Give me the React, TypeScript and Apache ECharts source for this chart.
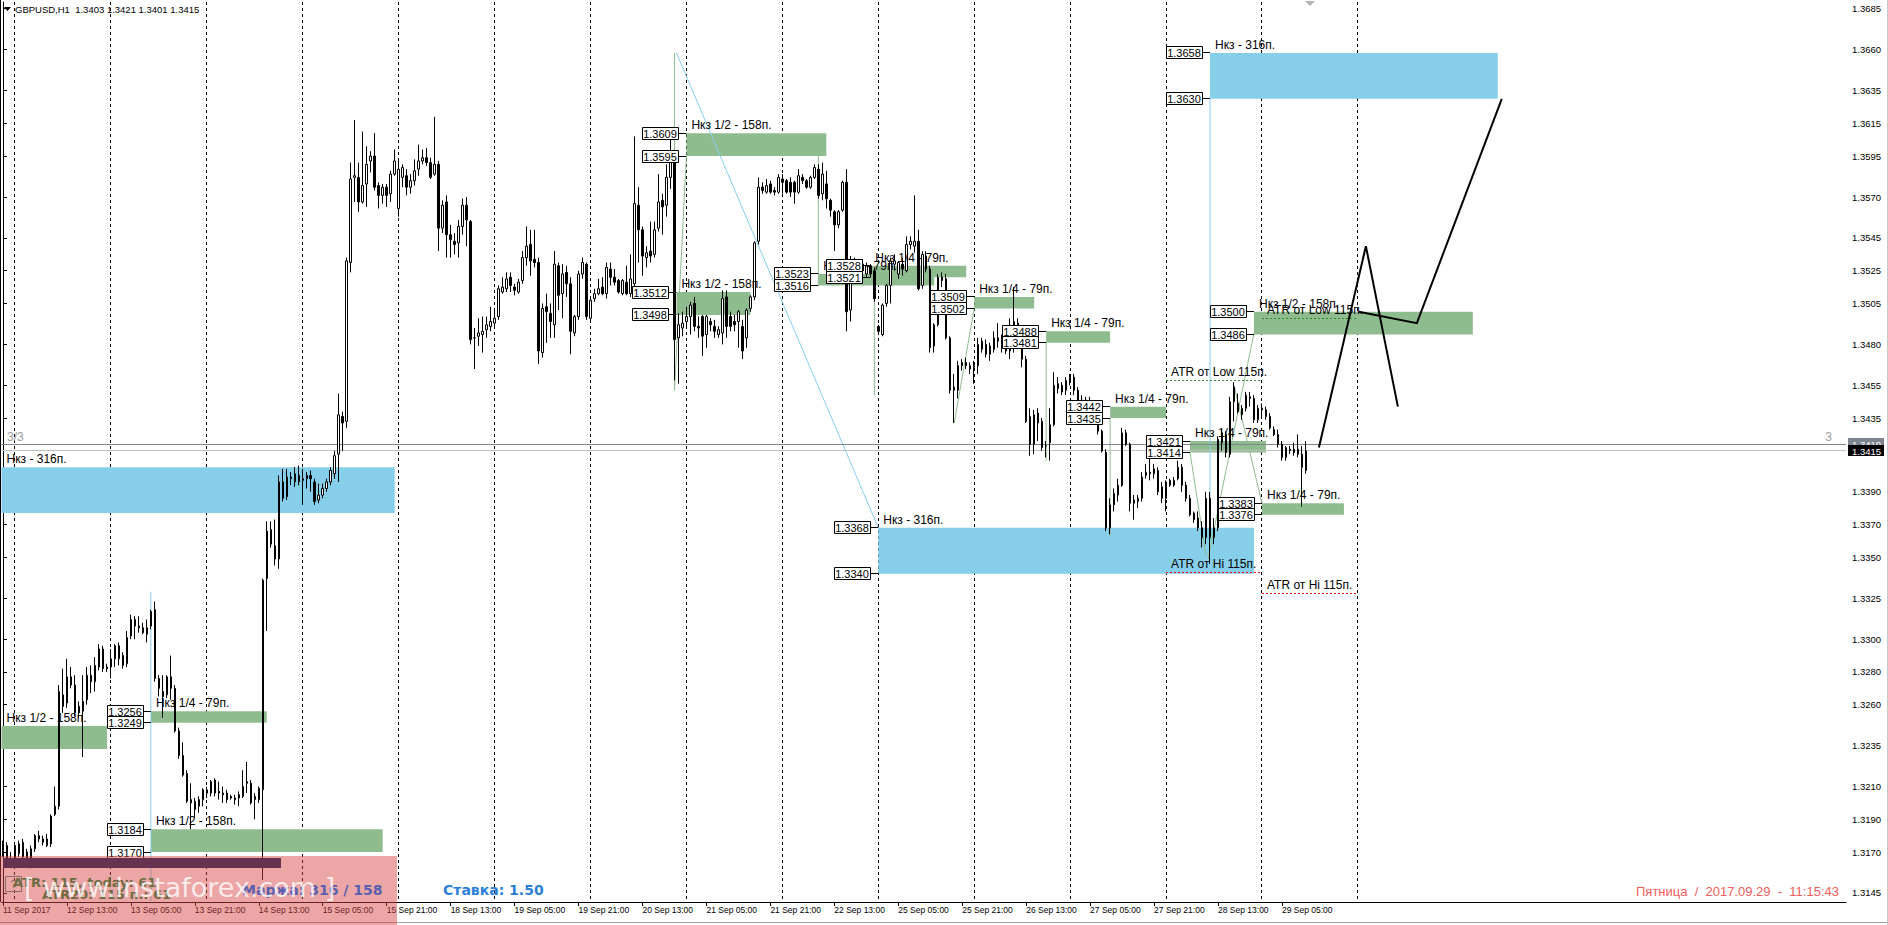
import { useEffect, useRef } from 'react';
import * as echarts from 'echarts';

// ---------- DATA ----------
// Hourly candles grouped by trading day, each row [open, high, low, close]
const SEP_11 = [
  [1.3171, 1.3177, 1.3167, 1.3175], [1.3174, 1.3176, 1.3163, 1.3165], [1.3165, 1.3170, 1.3161, 1.3166],
];
const SEP_12 = [
  [1.3163, 1.3175, 1.3161, 1.3174], [1.3169, 1.3177, 1.3167, 1.3175], [1.3167, 1.3178, 1.3163, 1.3176],
  [1.3170, 1.3172, 1.3161, 1.3163], [1.3163, 1.3174, 1.3160, 1.3172], [1.3172, 1.3181, 1.3170, 1.3180],
  [1.3180, 1.3183, 1.3176, 1.3178], [1.3178, 1.3180, 1.3174, 1.3176], [1.3178, 1.3181, 1.3173, 1.3174],
  [1.3175, 1.3193, 1.3173, 1.3192], [1.3193, 1.3210, 1.3192, 1.3198], [1.3198, 1.3272, 1.3196, 1.3268],
  [1.3266, 1.3282, 1.3255, 1.3259], [1.3261, 1.3288, 1.3258, 1.3277], [1.3277, 1.3283, 1.3270, 1.3272],
  [1.3272, 1.3278, 1.3253, 1.3255], [1.3255, 1.3262, 1.3252, 1.3259], [1.3256, 1.3278, 1.3228, 1.3262],
  [1.3263, 1.3283, 1.3260, 1.3278], [1.3274, 1.3284, 1.3267, 1.3278], [1.3274, 1.3289, 1.3268, 1.3284],
  [1.3283, 1.3297, 1.3281, 1.3294], [1.3294, 1.3296, 1.3280, 1.3282], [1.3283, 1.3285, 1.3280, 1.3282],
];
const SEP_13 = [
  [1.3283, 1.3294, 1.3276, 1.3288], [1.3288, 1.3297, 1.3283, 1.3296], [1.3296, 1.3298, 1.3284, 1.3288],
  [1.3290, 1.3292, 1.3282, 1.3284], [1.3285, 1.3305, 1.3283, 1.3301], [1.3302, 1.3315, 1.3300, 1.3312],
  [1.3312, 1.3314, 1.3300, 1.3308], [1.3308, 1.3314, 1.3304, 1.3307], [1.3307, 1.3310, 1.3303, 1.3304],
  [1.3303, 1.3312, 1.3298, 1.3307], [1.3308, 1.3318, 1.3306, 1.3317], [1.3318, 1.3323, 1.3274, 1.3276],
  [1.3276, 1.3278, 1.3265, 1.3270], [1.3268, 1.3278, 1.3252, 1.3265], [1.3266, 1.3278, 1.3264, 1.3277],
  [1.3277, 1.3290, 1.3263, 1.3270], [1.3270, 1.3272, 1.3243, 1.3244], [1.3244, 1.3246, 1.3227, 1.3229],
  [1.3229, 1.3237, 1.3216, 1.3217], [1.3218, 1.3220, 1.3200, 1.3201], [1.3202, 1.3212, 1.3184, 1.3200],
  [1.3196, 1.3203, 1.3191, 1.3201], [1.3198, 1.3204, 1.3194, 1.3202], [1.3202, 1.3209, 1.3198, 1.3208],
];
const SEP_14 = [
  [1.3206, 1.3210, 1.3203, 1.3208], [1.3206, 1.3214, 1.3204, 1.3213], [1.3214, 1.3215, 1.3204, 1.3206],
  [1.3207, 1.3213, 1.3202, 1.3206], [1.3206, 1.3210, 1.3200, 1.3205], [1.3206, 1.3208, 1.3200, 1.3202],
  [1.3203, 1.3205, 1.3202, 1.3204], [1.3203, 1.3205, 1.3199, 1.3202], [1.3203, 1.3207, 1.3198, 1.3205],
  [1.3204, 1.3220, 1.3203, 1.3210], [1.3212, 1.3225, 1.3206, 1.3213], [1.3212, 1.3214, 1.3199, 1.3200],
  [1.3202, 1.3206, 1.3190, 1.3204], [1.3202, 1.3210, 1.3200, 1.3209], [1.3208, 1.3337, 1.3153, 1.3336],
  [1.3337, 1.3372, 1.3305, 1.3366], [1.3358, 1.3372, 1.3356, 1.3367], [1.3357, 1.3373, 1.3345, 1.3349],
  [1.3349, 1.3400, 1.3343, 1.3396], [1.3396, 1.3404, 1.3384, 1.3386], [1.3387, 1.3404, 1.3385, 1.3399],
  [1.3398, 1.3402, 1.3394, 1.3399], [1.3396, 1.3405, 1.3393, 1.3401], [1.3400, 1.3406, 1.3394, 1.3396],
];
const SEP_15 = [
  [1.3398, 1.3404, 1.3382, 1.3397], [1.3398, 1.3402, 1.3392, 1.3400], [1.3400, 1.3403, 1.3390, 1.3398],
  [1.3396, 1.3398, 1.3382, 1.3384], [1.3385, 1.3395, 1.3383, 1.3388], [1.3388, 1.3395, 1.3386, 1.3392],
  [1.3392, 1.3398, 1.3390, 1.3396], [1.3396, 1.3405, 1.3394, 1.3403], [1.3401, 1.3415, 1.3398, 1.3412],
  [1.3413, 1.3450, 1.3396, 1.3437], [1.3436, 1.3439, 1.3415, 1.3432], [1.3433, 1.3533, 1.3429, 1.3531],
  [1.3530, 1.3591, 1.3524, 1.3581], [1.3582, 1.3617, 1.3567, 1.3583], [1.3582, 1.3591, 1.3561, 1.3567],
  [1.3567, 1.3610, 1.3566, 1.3577], [1.3578, 1.3601, 1.3564, 1.3590], [1.3592, 1.3598, 1.3585, 1.3595],
  [1.3595, 1.3609, 1.3574, 1.3576], [1.3577, 1.3579, 1.3563, 1.3571], [1.3571, 1.3578, 1.3566, 1.3576],
  [1.3576, 1.3578, 1.3564, 1.3571], [1.3572, 1.3586, 1.3567, 1.3584], [1.3584, 1.3599, 1.3583, 1.3592],
];
const SEP_18 = [
  [1.3563, 1.3592, 1.3558, 1.3587], [1.3582, 1.3590, 1.3576, 1.3588], [1.3583, 1.3587, 1.3571, 1.3576],
  [1.3576, 1.3584, 1.3572, 1.3580], [1.3580, 1.3593, 1.3577, 1.3586], [1.3587, 1.3602, 1.3583, 1.3592],
  [1.3592, 1.3599, 1.3590, 1.3594], [1.3594, 1.3600, 1.3589, 1.3591], [1.3591, 1.3594, 1.3581, 1.3582],
  [1.3584, 1.3619, 1.3583, 1.3590], [1.3590, 1.3592, 1.3537, 1.3551], [1.3551, 1.3568, 1.3548, 1.3565],
  [1.3567, 1.3571, 1.3533, 1.3547], [1.3547, 1.3553, 1.3533, 1.3544], [1.3543, 1.3548, 1.3535, 1.3541],
  [1.3542, 1.3556, 1.3533, 1.3552], [1.3552, 1.3569, 1.3547, 1.3565], [1.3565, 1.3570, 1.3540, 1.3556],
  [1.3555, 1.3556, 1.3480, 1.3483], [1.3484, 1.3490, 1.3465, 1.3484], [1.3485, 1.3496, 1.3479, 1.3487],
  [1.3486, 1.3497, 1.3475, 1.3488], [1.3489, 1.3497, 1.3484, 1.3492], [1.3491, 1.3503, 1.3488, 1.3494],
];
const SEP_19 = [
  [1.3493, 1.3502, 1.3490, 1.3496], [1.3497, 1.3516, 1.3495, 1.3514], [1.3512, 1.3521, 1.3511, 1.3515],
  [1.3514, 1.3524, 1.3512, 1.3520], [1.3521, 1.3524, 1.3512, 1.3516], [1.3515, 1.3517, 1.3510, 1.3513],
  [1.3512, 1.3520, 1.3511, 1.3518], [1.3519, 1.3537, 1.3517, 1.3533], [1.3533, 1.3552, 1.3528, 1.3540],
  [1.3541, 1.3550, 1.3522, 1.3531], [1.3532, 1.3550, 1.3527, 1.3530], [1.3530, 1.3533, 1.3468, 1.3476],
  [1.3475, 1.3505, 1.3472, 1.3502], [1.3503, 1.3511, 1.3481, 1.3500], [1.3499, 1.3505, 1.3484, 1.3494],
  [1.3492, 1.3537, 1.3484, 1.3529], [1.3528, 1.3530, 1.3501, 1.3510], [1.3511, 1.3529, 1.3496, 1.3523],
  [1.3524, 1.3528, 1.3509, 1.3517], [1.3517, 1.3521, 1.3474, 1.3488], [1.3487, 1.3498, 1.3485, 1.3497],
  [1.3497, 1.3525, 1.3495, 1.3523], [1.3523, 1.3533, 1.3520, 1.3530], [1.3529, 1.3530, 1.3495, 1.3497],
];
const SEP_20 = [
  [1.3496, 1.3509, 1.3495, 1.3507], [1.3508, 1.3514, 1.3506, 1.3511], [1.3511, 1.3520, 1.3510, 1.3514],
  [1.3515, 1.3521, 1.3510, 1.3511], [1.3511, 1.3530, 1.3508, 1.3527], [1.3526, 1.3530, 1.3516, 1.3521],
  [1.3521, 1.3526, 1.3516, 1.3518], [1.3519, 1.3520, 1.3511, 1.3512], [1.3511, 1.3520, 1.3510, 1.3519],
  [1.3518, 1.3528, 1.3510, 1.3511], [1.3511, 1.3535, 1.3509, 1.3520], [1.3517, 1.3607, 1.3513, 1.3566],
  [1.3565, 1.3576, 1.3530, 1.3550], [1.3550, 1.3552, 1.3522, 1.3534], [1.3533, 1.3540, 1.3527, 1.3536],
  [1.3537, 1.3555, 1.3530, 1.3534], [1.3535, 1.3555, 1.3533, 1.3550], [1.3551, 1.3584, 1.3549, 1.3567],
  [1.3568, 1.3572, 1.3547, 1.3564], [1.3565, 1.3590, 1.3558, 1.3582], [1.3582, 1.3605, 1.3575, 1.3592],
  [1.3592, 1.3596, 1.3458, 1.3483], [1.3484, 1.3499, 1.3456, 1.3492], [1.3490, 1.3500, 1.3485, 1.3493],
];
const SEP_21 = [
  [1.3494, 1.3503, 1.3490, 1.3497], [1.3497, 1.3506, 1.3486, 1.3504], [1.3505, 1.3509, 1.3488, 1.3491],
  [1.3491, 1.3497, 1.3484, 1.3490], [1.3497, 1.3498, 1.3473, 1.3485], [1.3486, 1.3498, 1.3478, 1.3497],
  [1.3494, 1.3496, 1.3488, 1.3492], [1.3491, 1.3495, 1.3484, 1.3488], [1.3486, 1.3491, 1.3484, 1.3489],
  [1.3487, 1.3513, 1.3480, 1.3508], [1.3509, 1.3513, 1.3484, 1.3491], [1.3497, 1.3500, 1.3488, 1.3491],
  [1.3494, 1.3498, 1.3488, 1.3492], [1.3494, 1.3501, 1.3478, 1.3500], [1.3491, 1.3495, 1.3471, 1.3476],
  [1.3484, 1.3502, 1.3478, 1.3501], [1.3502, 1.3510, 1.3500, 1.3509], [1.3509, 1.3543, 1.3507, 1.3542],
  [1.3543, 1.3582, 1.3541, 1.3576], [1.3576, 1.3579, 1.3572, 1.3574], [1.3573, 1.3581, 1.3572, 1.3577],
  [1.3578, 1.3580, 1.3572, 1.3573], [1.3574, 1.3576, 1.3571, 1.3573], [1.3573, 1.3584, 1.3572, 1.3582],
];
const SEP_22 = [
  [1.3581, 1.3584, 1.3572, 1.3579], [1.3580, 1.3581, 1.3572, 1.3573], [1.3579, 1.3582, 1.3570, 1.3573],
  [1.3579, 1.3580, 1.3566, 1.3573], [1.3573, 1.3587, 1.3572, 1.3583], [1.3582, 1.3584, 1.3578, 1.3580],
  [1.3580, 1.3581, 1.3575, 1.3576], [1.3576, 1.3583, 1.3575, 1.3582], [1.3582, 1.3590, 1.3581, 1.3588],
  [1.3587, 1.3590, 1.3569, 1.3571], [1.3572, 1.3591, 1.3568, 1.3584], [1.3578, 1.3586, 1.3563, 1.3569],
  [1.3568, 1.3569, 1.3558, 1.3562], [1.3561, 1.3562, 1.3537, 1.3553], [1.3553, 1.3562, 1.3551, 1.3561],
  [1.3562, 1.3580, 1.3561, 1.3579], [1.3579, 1.3587, 1.3488, 1.3500], [1.3501, 1.3534, 1.3494, 1.3531],
  [1.3530, 1.3533, 1.3520, 1.3523], [1.3524, 1.3532, 1.3520, 1.3531], [1.3529, 1.3532, 1.3522, 1.3525],
  [1.3523, 1.3530, 1.3521, 1.3528], [1.3528, 1.3529, 1.3521, 1.3523], [1.3525, 1.3527, 1.3506, 1.3508],
];
const SEP_25 = [
  [1.3491, 1.3492, 1.3486, 1.3488], [1.3486, 1.3505, 1.3485, 1.3504], [1.3505, 1.3517, 1.3503, 1.3516],
  [1.3516, 1.3533, 1.3505, 1.3531], [1.3529, 1.3535, 1.3525, 1.3531], [1.3523, 1.3531, 1.3520, 1.3530],
  [1.3529, 1.3533, 1.3522, 1.3526], [1.3525, 1.3546, 1.3524, 1.3541], [1.3541, 1.3546, 1.3538, 1.3543],
  [1.3540, 1.3571, 1.3536, 1.3543], [1.3543, 1.3550, 1.3513, 1.3514], [1.3516, 1.3537, 1.3514, 1.3535],
  [1.3534, 1.3537, 1.3524, 1.3526], [1.3526, 1.3528, 1.3475, 1.3478], [1.3479, 1.3493, 1.3475, 1.3492],
  [1.3492, 1.3523, 1.3491, 1.3521], [1.3521, 1.3524, 1.3515, 1.3519], [1.3520, 1.3523, 1.3483, 1.3484],
  [1.3484, 1.3485, 1.3450, 1.3452], [1.3452, 1.3462, 1.3432, 1.3454], [1.3452, 1.3470, 1.3447, 1.3467],
  [1.3467, 1.3471, 1.3464, 1.3469], [1.3469, 1.3472, 1.3465, 1.3467], [1.3465, 1.3469, 1.3462, 1.3467],
];
const SEP_26 = [
  [1.3466, 1.3470, 1.3456, 1.3467], [1.3467, 1.3484, 1.3462, 1.3480], [1.3477, 1.3484, 1.3475, 1.3482],
  [1.3480, 1.3483, 1.3472, 1.3474], [1.3474, 1.3481, 1.3470, 1.3479], [1.3477, 1.3488, 1.3475, 1.3484],
  [1.3484, 1.3493, 1.3478, 1.3482], [1.3480, 1.3486, 1.3475, 1.3483], [1.3484, 1.3490, 1.3474, 1.3476],
  [1.3476, 1.3496, 1.3471, 1.3484], [1.3483, 1.3515, 1.3475, 1.3494], [1.3493, 1.3496, 1.3478, 1.3480],
  [1.3482, 1.3484, 1.3466, 1.3471], [1.3471, 1.3473, 1.3432, 1.3433], [1.3436, 1.3441, 1.3412, 1.3419],
  [1.3419, 1.3440, 1.3413, 1.3437], [1.3438, 1.3441, 1.3421, 1.3432], [1.3433, 1.3435, 1.3415, 1.3417],
  [1.3418, 1.3421, 1.3411, 1.3418], [1.3420, 1.3441, 1.3409, 1.3431], [1.3431, 1.3463, 1.3430, 1.3455],
  [1.3456, 1.3460, 1.3450, 1.3453], [1.3455, 1.3457, 1.3449, 1.3451], [1.3452, 1.3460, 1.3449, 1.3458],
];
const SEP_27 = [
  [1.3457, 1.3462, 1.3455, 1.3460], [1.3460, 1.3462, 1.3449, 1.3452], [1.3452, 1.3454, 1.3439, 1.3440],
  [1.3440, 1.3449, 1.3438, 1.3446], [1.3446, 1.3448, 1.3438, 1.3440], [1.3440, 1.3448, 1.3436, 1.3445],
  [1.3445, 1.3446, 1.3433, 1.3435], [1.3436, 1.3440, 1.3425, 1.3427], [1.3427, 1.3428, 1.3414, 1.3415],
  [1.3414, 1.3416, 1.3366, 1.3368], [1.3368, 1.3386, 1.3364, 1.3382], [1.3382, 1.3392, 1.3378, 1.3389],
  [1.3388, 1.3398, 1.3384, 1.3394], [1.3394, 1.3429, 1.3393, 1.3426], [1.3426, 1.3428, 1.3418, 1.3419],
  [1.3419, 1.3420, 1.3378, 1.3383], [1.3383, 1.3388, 1.3373, 1.3385], [1.3384, 1.3388, 1.3380, 1.3386],
  [1.3386, 1.3402, 1.3384, 1.3399], [1.3400, 1.3407, 1.3398, 1.3402], [1.3402, 1.3411, 1.3397, 1.3401],
  [1.3401, 1.3407, 1.3398, 1.3404], [1.3403, 1.3405, 1.3388, 1.3390], [1.3393, 1.3396, 1.3383, 1.3386],
];
const SEP_28 = [
  [1.3386, 1.3397, 1.3378, 1.3396], [1.3397, 1.3398, 1.3393, 1.3394], [1.3394, 1.3399, 1.3393, 1.3397],
  [1.3398, 1.3409, 1.3397, 1.3405], [1.3405, 1.3407, 1.3390, 1.3394], [1.3394, 1.3396, 1.3384, 1.3386],
  [1.3386, 1.3388, 1.3375, 1.3376], [1.3377, 1.3378, 1.3371, 1.3373], [1.3374, 1.3378, 1.3366, 1.3368],
  [1.3368, 1.3372, 1.3356, 1.3362], [1.3362, 1.3390, 1.3358, 1.3386], [1.3386, 1.3390, 1.3346, 1.3362],
  [1.3362, 1.3374, 1.3358, 1.3368], [1.3368, 1.3424, 1.3366, 1.3422], [1.3420, 1.3428, 1.3415, 1.3426],
  [1.3425, 1.3427, 1.3411, 1.3414], [1.3413, 1.3448, 1.3411, 1.3445], [1.3445, 1.3457, 1.3433, 1.3454],
  [1.3444, 1.3450, 1.3438, 1.3439], [1.3437, 1.3443, 1.3434, 1.3441], [1.3441, 1.3451, 1.3439, 1.3449],
  [1.3448, 1.3451, 1.3442, 1.3447], [1.3447, 1.3449, 1.3432, 1.3434], [1.3434, 1.3443, 1.3432, 1.3441],
];
const SEP_29 = [
  [1.3441, 1.3444, 1.3436, 1.3440], [1.3440, 1.3442, 1.3434, 1.3436], [1.3436, 1.3438, 1.3428, 1.3429],
  [1.3428, 1.3430, 1.3424, 1.3425], [1.3425, 1.3428, 1.3417, 1.3419], [1.3419, 1.3421, 1.3409, 1.3411],
  [1.3411, 1.3418, 1.3409, 1.3417], [1.3416, 1.3418, 1.3413, 1.3415], [1.3416, 1.3420, 1.3412, 1.3414],
  [1.3416, 1.3425, 1.3411, 1.3413], [1.3413, 1.3418, 1.3381, 1.3405], [1.3403, 1.3421, 1.3401, 1.3415],
];
const TRADING_DAYS = [SEP_11, SEP_12, SEP_13, SEP_14, SEP_15, SEP_18, SEP_19, SEP_20, SEP_21, SEP_22, SEP_25, SEP_26, SEP_27, SEP_28, SEP_29];

// time axis: one label every 16 hourly bars, starting at the first bar
const X_TICK_STEP = 16;
const X_TICK_LABELS = [
  '11 Sep 2017', '12 Sep 13:00', '13 Sep 05:00', '13 Sep 21:00', '14 Sep 13:00', '15 Sep 05:00', '15 Sep 21:00',
  '18 Sep 13:00', '19 Sep 05:00', '19 Sep 21:00', '20 Sep 13:00', '21 Sep 05:00', '21 Sep 21:00', '22 Sep 13:00',
  '25 Sep 05:00', '25 Sep 21:00', '26 Sep 13:00', '27 Sep 05:00', '27 Sep 21:00', '28 Sep 13:00', '29 Sep 05:00',
];
// bars where a new day starts (vertical grid)
const DAY_STARTS = [3, 27, 51, 75, 99, 123, 147, 171, 195, 219, 243, 267, 291, 315, 339];
const X_MIN = -0.375;
const X_MAX = 461.125;

// price axis
const PRICE_MIN = 1.31395;
const PRICE_MAX = 1.36891;
const PRICE_TICKS = [
  1.3685, 1.3660, 1.3635, 1.3615, 1.3595, 1.3570, 1.3545, 1.3525, 1.3505, 1.3480, 1.3455, 1.3435,
  1.3390, 1.3370, 1.3350, 1.3325, 1.3300, 1.3280, 1.3260, 1.3235, 1.3210, 1.3190, 1.3170, 1.3145,
];
const BID = 1.3415;
const ASK = 1.3419;

// "Нкз" zones: bar range and price range
const ZONES = [
  { from: X_MIN, to: 98, top: 1.3405, bottom: 1.3377, kind: 'full', title: 'Нкз - 316п.', prices: false },
  { from: X_MIN, to: 26, top: 1.3247, bottom: 1.3233, kind: 'half', title: 'Нкз 1/2 - 158п.', prices: false },
  { from: 37, to: 66, top: 1.3256, bottom: 1.3249, kind: 'quarter', title: 'Нкз 1/4 - 79п.', prices: true },
  { from: 37, to: 95, top: 1.3184, bottom: 1.3170, kind: 'half', title: 'Нкз 1/2 - 158п.', prices: true },
  { from: 168.5, to: 187, top: 1.3512, bottom: 1.3498, kind: 'half', title: 'Нкз 1/2 - 158п.', prices: true },
  { from: 171, to: 206, top: 1.3609, bottom: 1.3595, kind: 'half', title: 'Нкз 1/2 - 158п.', prices: true },
  { from: 204, to: 233, top: 1.3523, bottom: 1.3516, kind: 'quarter', title: 'Нкз 1/4 - 79п.', prices: true },
  { from: 217, to: 241, top: 1.3528, bottom: 1.3521, kind: 'quarter', title: 'Нкз 1/4 - 79п.', prices: true },
  { from: 219, to: 313, top: 1.3368, bottom: 1.3340, kind: 'full', title: 'Нкз - 316п.', prices: true },
  { from: 243, to: 258, top: 1.3509, bottom: 1.3502, kind: 'quarter', title: 'Нкз 1/4 - 79п.', prices: true },
  { from: 261, to: 277, top: 1.3488, bottom: 1.3481, kind: 'quarter', title: 'Нкз 1/4 - 79п.', prices: true },
  { from: 277, to: 291, top: 1.3442, bottom: 1.3435, kind: 'quarter', title: 'Нкз 1/4 - 79п.', prices: true },
  { from: 297, to: 316, top: 1.3421, bottom: 1.3414, kind: 'quarter', title: 'Нкз 1/4 - 79п.', prices: true },
  { from: 302, to: 374, top: 1.3658, bottom: 1.3630, kind: 'full', title: 'Нкз - 316п.', prices: true },
  { from: 313, to: 367.75, top: 1.3500, bottom: 1.3486, kind: 'half', title: 'Нкз 1/2 - 158п.', prices: true },
  { from: 315, to: 335.5, top: 1.3383, bottom: 1.3376, kind: 'quarter', title: 'Нкз 1/4 - 79п.', prices: true },
];

// daily ATR projections
const ATR_LEVELS = [
  { from: 291, to: 315, price: 1.3458, side: 'low', title: 'ATR от Low 115п.' },
  { from: 315, to: 339, price: 1.3496, side: 'low', title: 'ATR от Low 115п.' },
  { from: 291, to: 315, price: 1.3341, side: 'hi', title: 'ATR от Hi 115п.' },
  { from: 315, to: 339, price: 1.3328, side: 'hi', title: 'ATR от Hi 115п.' },
];

// indicator construction lines [bar1, price1, bar2, price2]
const BLUE_GUIDES = [
  [37, 1.3329, 37, 1.3140],
  [168.5, 1.3658, 219, 1.3368],
  [302, 1.3630, 302, 1.3350],
];
const GREEN_GUIDES = [
  [168, 1.3658, 168, 1.3452],
  [168, 1.3452, 171, 1.3595],
  [204, 1.3597, 204, 1.3516],
  [218, 1.3521, 218, 1.3449],
  [238, 1.3432, 243, 1.3502],
  [261, 1.3481, 261, 1.3409],
  [277, 1.3435, 277, 1.3363],
  [297, 1.3414, 301, 1.3351],
  [301.5, 1.3349, 313, 1.3487],
  [308, 1.3455, 315, 1.3383],
];
// hand-drawn forecast paths [bar, price]
const FORECAST_PATHS = [
  [[329.25, 1.3417], [341, 1.3540], [349, 1.3442]],
  [[339.25, 1.3500], [353.75, 1.3493], [375, 1.3630]],
];

const HEADER = 'GBPUSD,H1  1.3403 1.3421 1.3401 1.3415';
const STATUS_DATE = 'Пятница  /  2017.09.29  -  11:15:43';
const ATR_INFO = 'ATR: 115, today: 61';
const ATR_INFO2 = 'ATR20: 115 п.: 61';
const MARGIN_INFO = 'Маржа: 316 / 158';
const RATE_INFO = 'Ставка: 1.50';
const WATERMARK = '[ www.instaforex.com ]';

// ---------- CHART ----------
const FONT = '"Liberation Sans", Arial, sans-serif';
const ZONE_COLORS: Record<string, string> = { full: '#87ceeb', half: '#8fbc8f', quarter: '#8fbc8f' };

function buildOption() {
  const candles = TRADING_DAYS.flat();
  const candleData = candles.map((c, i) => [i, c[0], c[3], c[2], c[1]]);
  const xTicks = X_TICK_LABELS.map((_, i) => i * X_TICK_STEP);

  const snap = (v: number) => Math.round(v) + 0.5;

  const gridSeries = {
    type: 'custom', z: 1, silent: true, clip: false,
    data: DAY_STARTS.map((d) => [d, PRICE_MAX]),
    renderItem: (params: any, api: any) => {
      const cs = params.coordSys;
      const x = snap(api.coord([api.value(0), PRICE_MAX])[0] - 0.5);
      return { type: 'line', shape: { x1: x, y1: cs.y, x2: x, y2: cs.y + cs.height }, style: { stroke: '#000', lineWidth: 1, lineDash: [3, 3] } };
    },
  };

  const priceLineSeries = {
    type: 'custom', z: 1, silent: true, clip: false,
    data: [[0, ASK], [0, BID]],
    renderItem: (params: any, api: any) => {
      const cs = params.coordSys;
      const p = api.value(1);
      const y = snap(api.coord([0, p])[1] - 0.5);
      return { type: 'line', shape: { x1: cs.x, y1: y, x2: cs.x + cs.width, y2: y }, style: { stroke: p === ASK ? '#7d8590' : '#c0c0c0', lineWidth: 1 } };
    },
  };

  const zoneSeries = {
    type: 'custom', z: 1, silent: true, clip: false,
    data: ZONES.map((z) => [z.from, z.top]),
    renderItem: (params: any, api: any) => {
      const z = ZONES[params.dataIndex];
      const a = api.coord([z.from, z.top]);
      const b = api.coord([z.to, z.bottom]);
      return { type: 'rect', shape: { x: a[0], y: a[1], width: b[0] - a[0], height: b[1] - a[1] }, style: { fill: ZONE_COLORS[z.kind] } };
    },
  };

  const guideSeries = (lines: number[][], color: string) => ({
    type: 'custom', z: 1, silent: true, clip: false,
    data: lines.map((l) => [l[0], l[1]]),
    renderItem: (params: any, api: any) => {
      const l = lines[params.dataIndex];
      const a = api.coord([l[0], l[1]]);
      const b = api.coord([l[2], l[3]]);
      return { type: 'line', shape: { x1: a[0], y1: a[1], x2: b[0], y2: b[1] }, style: { stroke: color, lineWidth: 1 } };
    },
  });

  const candleSeries = {
    type: 'candlestick', z: 2, silent: true,
    barWidth: 2,
    data: candleData,
    itemStyle: { color: '#ffffff', color0: '#000000', borderColor: '#000000', borderColor0: '#000000', borderWidth: 1 },
  };

  const atrSeries = {
    type: 'custom', z: 3, silent: true, clip: false,
    data: ATR_LEVELS.map((a) => [a.from, a.price]),
    renderItem: (params: any, api: any) => {
      const a = ATR_LEVELS[params.dataIndex];
      const p1 = api.coord([a.from, a.price]);
      const p2 = api.coord([a.to, a.price]);
      const y = snap(p1[1] - 0.5);
      return {
        type: 'group', children: [
          { type: 'line', shape: { x1: p1[0], y1: y, x2: p2[0], y2: y }, style: { stroke: a.side === 'low' ? '#2e8b2e' : '#ff0000', lineWidth: 1, lineDash: [2, 2] } },
          { type: 'text', style: { text: a.title, x: p1[0] + 5, y: y - 3, fill: '#000', font: '12px ' + FONT, verticalAlign: 'bottom', align: 'left' } },
        ],
      };
    },
  };

  const zoneLabelSeries = {
    type: 'custom', z: 4, silent: true, clip: false,
    data: ZONES.map((z) => [z.from, z.top]),
    renderItem: (params: any, api: any) => {
      const z = ZONES[params.dataIndex];
      const a = api.coord([z.from, z.top]);
      const yBot = api.coord([z.from, z.bottom])[1];
      const x0 = Math.max(a[0], 1);
      const children: any[] = [
        { type: 'text', style: { text: z.title, x: x0 + 5, y: a[1] - 2, fill: '#000', font: '12px ' + FONT, verticalAlign: 'bottom', align: 'left' } },
      ];
      if (z.prices) {
        const pairs: [number, number][] = [[z.top, a[1]], [z.bottom, yBot]];
        pairs.forEach(([p, yy]) => {
          const y = snap(yy - 0.5);
          const right = Math.round(a[0]) - 8;
          children.push({ type: 'line', shape: { x1: right, y1: y, x2: a[0], y2: y }, style: { stroke: '#000', lineWidth: 1 } });
          children.push({ type: 'rect', shape: { x: right - 36 + 0.5, y: y - 6, width: 36, height: 12 }, style: { fill: '#fff', stroke: '#000', lineWidth: 1 } });
          children.push({ type: 'text', style: { text: p.toFixed(4), x: right - 18, y: y + 0.5, fill: '#000', font: '11px ' + FONT, align: 'center', verticalAlign: 'middle' } });
        });
      }
      return { type: 'group', children };
    },
  };

  const forecastSeries = {
    type: 'custom', z: 4, silent: true, clip: false,
    data: FORECAST_PATHS.map((p) => p[0]),
    renderItem: (params: any, api: any) => {
      const path = FORECAST_PATHS[params.dataIndex];
      return { type: 'polyline', shape: { points: path.map((pt) => api.coord(pt)) }, style: { stroke: '#000', lineWidth: 2, fill: null } };
    },
  };

  const priceTagSeries = {
    type: 'custom', z: 5, silent: true, clip: false,
    data: [[0, ASK], [0, BID]],
    renderItem: (params: any, api: any) => {
      const cs = params.coordSys;
      const p = api.value(1);
      const y = Math.round(api.coord([0, p])[1]);
      const x = cs.x + cs.width + 2;
      return {
        type: 'group', children: [
          { type: 'rect', shape: { x, y: y - 6, width: 36, height: 11 }, style: { fill: p === ASK ? '#7d8590' : '#000' } },
          { type: 'text', style: { text: p.toFixed(4), x: x + 4, y: y, fill: '#fff', font: '9.5px ' + FONT, verticalAlign: 'middle', align: 'left' } },
        ],
      };
    },
  };

  const topZ = 100;
  const graphic = [
    { type: 'line', z: topZ, shape: { x1: 0.5, y1: 0, x2: 0.5, y2: 902 }, style: { stroke: '#000', lineWidth: 1 } },
    { type: 'line', z: topZ, shape: { x1: 0, y1: 922.5, x2: 1888, y2: 922.5 }, style: { stroke: '#a0a0a0', lineWidth: 1 } },
    { type: 'line', z: topZ, shape: { x1: 1887.5, y1: 0, x2: 1887.5, y2: 925 }, style: { stroke: '#c8c8c8', lineWidth: 1 } },
    { type: 'polygon', z: topZ, shape: { points: [[4, 7], [11, 7], [7.5, 11]] }, style: { fill: '#000' } },
    { type: 'text', z: topZ, style: { text: HEADER, x: 15, y: 9.5, fill: '#000', font: '9.5px ' + FONT, verticalAlign: 'middle' } },
    { type: 'polygon', z: topZ, shape: { points: [[1305, 1], [1315, 1], [1310, 6]] }, style: { fill: '#b4b4b4' } },
    { type: 'text', z: topZ, style: { text: '3/3', x: 7, y: 437, fill: '#a0a0a0', font: '12px ' + FONT, verticalAlign: 'middle' } },
    { type: 'text', z: topZ, style: { text: '3', x: 1832, y: 437, fill: '#a0a0a0', font: '12px ' + FONT, verticalAlign: 'middle', align: 'right' } },
    { type: 'rect', z: topZ, shape: { x: 3, y: 858, width: 278, height: 10 }, style: { fill: '#00205a' } },
    { type: 'rect', z: topZ + 1, shape: { x: 0, y: 856, width: 397, height: 69 }, style: { fill: 'rgba(215,70,70,0.48)' } },
    { type: 'rect', z: topZ + 2, shape: { x: 5.5, y: 876.5, width: 16, height: 15 }, style: { fill: 'none', stroke: '#8a6a6a', lineWidth: 1 } },
    { type: 'text', z: topZ + 2, style: { text: '?', x: 13.5, y: 884, fill: '#8a6a6a', font: '11px ' + FONT, align: 'center', verticalAlign: 'middle' } },
    { type: 'text', z: topZ + 2, style: { text: ATR_INFO, x: 13, y: 882, fill: '#6e6c42', font: 'bold 13px "DejaVu Sans", sans-serif', verticalAlign: 'middle' } },
    { type: 'text', z: topZ + 2, style: { text: ATR_INFO2, x: 42, y: 894, fill: '#6e6c42', font: 'bold 13px "DejaVu Sans", sans-serif', verticalAlign: 'middle' } },
    { type: 'text', z: topZ + 2, style: { text: MARGIN_INFO, x: 242, y: 890, fill: '#5a5fb0', font: 'bold 14px "DejaVu Sans", sans-serif', verticalAlign: 'middle' } },
    { type: 'text', z: topZ + 2, style: { text: RATE_INFO, x: 443, y: 890, fill: '#2a7fd8', font: 'bold 14px "DejaVu Sans", sans-serif', verticalAlign: 'middle' } },
    { type: 'text', z: topZ + 3, style: { text: WATERMARK, x: 24, y: 887, fill: 'rgba(255,255,255,0.78)', font: '27px "DejaVu Sans", sans-serif', verticalAlign: 'middle' } },
    { type: 'text', z: topZ, style: { text: STATUS_DATE, x: 1839, y: 891, fill: '#f25c5c', font: '13px ' + FONT, align: 'right', verticalAlign: 'middle' } },
  ];

  return {
    animation: false,
    backgroundColor: '#ffffff',
    grid: { left: 0, right: 42, top: 2, bottom: 23, containLabel: false },
    xAxis: {
      type: 'value', min: X_MIN, max: X_MAX,
      axisLine: { show: true, lineStyle: { color: '#000', width: 1 } },
      axisTick: { show: true, length: 4, lineStyle: { color: '#000' }, customValues: xTicks },
      axisLabel: {
        show: true, customValues: xTicks, align: 'left', margin: 3, color: '#000', fontSize: 8.5, fontFamily: FONT,
        formatter: (v: number) => X_TICK_LABELS[Math.round(v / X_TICK_STEP)] || '',
      },
      splitLine: { show: false },
    },
    yAxis: {
      type: 'value', position: 'right', min: PRICE_MIN, max: PRICE_MAX, scale: true,
      axisLine: { show: true, lineStyle: { color: '#000', width: 1 } },
      axisTick: { show: true, length: 4, lineStyle: { color: '#000' }, customValues: PRICE_TICKS },
      axisLabel: { show: true, customValues: PRICE_TICKS, margin: 6, color: '#000', fontSize: 9.5, fontFamily: FONT, formatter: (v: number) => v.toFixed(4) },
      splitLine: { show: false },
    },
    series: [
      gridSeries, zoneSeries, guideSeries(BLUE_GUIDES, '#87ceeb'), guideSeries(GREEN_GUIDES, '#8fbc8f'), priceLineSeries,
      candleSeries, atrSeries, zoneLabelSeries, forecastSeries, priceTagSeries,
    ],
    graphic,
  };
}

export default function App() {
  const ref = useRef<HTMLDivElement>(null);
  useEffect(() => {
    const chart = echarts.init(ref.current as HTMLDivElement, null, { renderer: 'svg' });
    chart.setOption(buildOption() as any);
    return () => chart.dispose();
  }, []);
  return <div ref={ref} style={{ position: 'fixed', left: 0, top: 0, width: 1888, height: 925, background: '#fff' }} />;
}
